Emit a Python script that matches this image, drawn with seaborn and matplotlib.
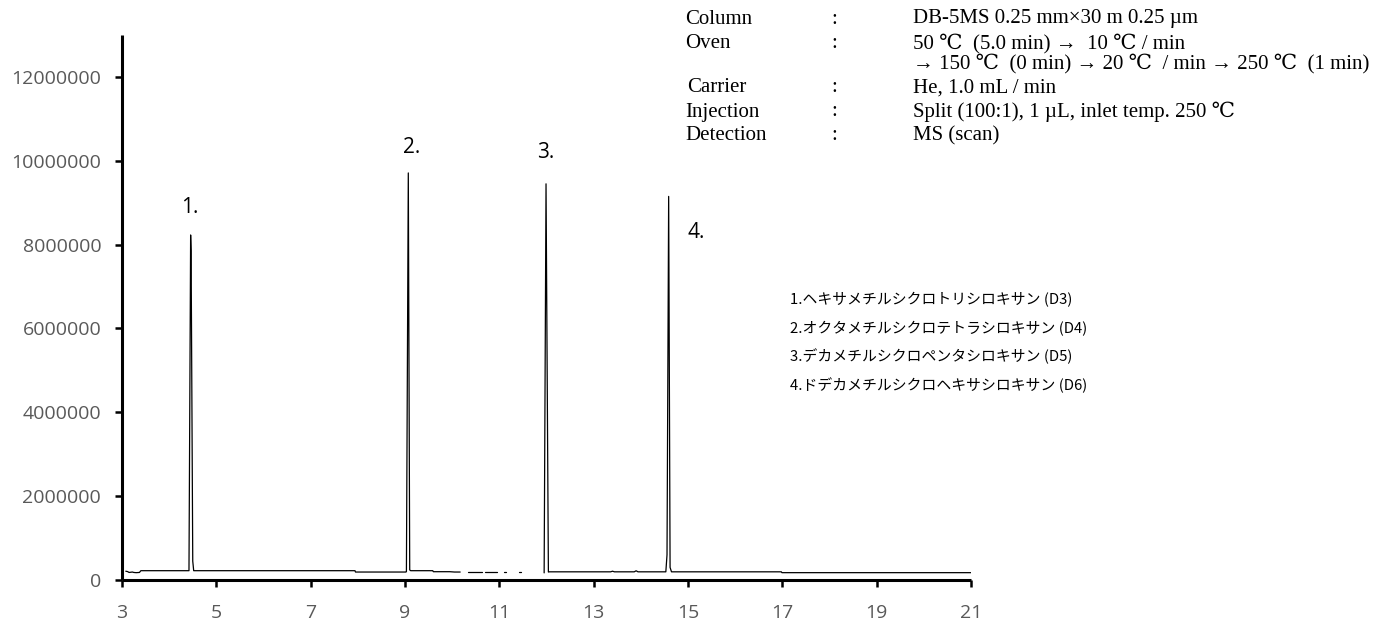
import numpy as np
import pandas as pd
import matplotlib
matplotlib.use("Agg")
import matplotlib.pyplot as plt
from matplotlib.ticker import FuncFormatter
import seaborn as sns

# Total ion chromatogram of cyclic siloxanes D3-D6 (retention time in min, abundance)
# segment ids separate stretches of the trace where the recorded signal drops out
seg_id = [0] * 25 + [1, 1] + [2, 2] + [3, 3] + [4, 4] + [5] * 18
rt_min = [
    3.08, 3.12, 3.15, 3.22, 3.25, 3.30, 3.37, 3.40, 4.42, 4.455, 4.465, 4.50, 4.52,
    7.94, 7.95, 9.02, 9.03, 9.07, 9.10, 9.12, 9.59, 9.60, 9.95, 10.05, 10.17,
    10.33, 10.63,
    10.70, 10.95,
    11.10, 11.14,
    11.42, 11.46,
    11.95, 11.99, 12.04, 12.06, 13.36, 13.40, 13.44, 13.86, 13.90, 13.94,
    14.53, 14.555, 14.59, 14.62, 14.65, 16.98, 16.99, 21.0,
]
abundance = [
    210000, 200000, 180000, 190000, 180000, 175000, 180000, 222000, 222000, 8230000, 7850000, 450000, 222000,
    222000, 190000, 190000, 200000, 9710000, 240000, 222000, 222000, 198000, 198000, 190000, 190000,
    190000, 190000,
    190000, 190000,
    190000, 190000,
    190000, 190000,
    170000, 9450000, 190000, 195000, 195000, 210000, 195000, 195000, 220000, 195000,
    195000, 600000, 9150000, 300000, 195000, 195000, 175000, 175000,
]

peak_names = ["1.", "2.", "3.", "4."]
peak_rt = [4.455, 9.07, 11.99, 14.59]
peak_height = [8230000, 9710000, 9450000, 9150000]

compounds = [
    "1.ヘキサメチルシクロトリシロキサン (D3)",
    "2.オクタメチルシクロテトラシロキサン (D4)",
    "3.デカメチルシクロペンタシロキサン (D5)",
    "4.ドデカメチルシクロヘキサシロキサン (D6)",
]

cond_keys = ["Column", "Oven", "", "Carrier", "Injection", "Detection"]
cond_vals = [
    "DB-5MS 0.25 mm×30 m 0.25 µm",
    "50 ℃  (5.0 min) →  10 ℃ / min",
    "→ 150 ℃  (0 min) → 20 ℃  / min → 250 ℃  (1 min)",
    "He, 1.0 mL / min",
    "Split (100:1), 1 µL, inlet temp. 250 ℃",
    "MS (scan)",
]

x_ticks = [3, 5, 7, 9, 11, 13, 15, 17, 19, 21]
y_ticks = [0, 2000000, 4000000, 6000000, 8000000, 10000000, 12000000]

df = pd.DataFrame({"segment": seg_id, "rt": rt_min, "abundance": abundance})

sns.set_style("ticks")
plt.rcParams["font.family"] = ["Open Sans", "DejaVu Sans"]

W, H = 1375, 621
fig = plt.figure(figsize=(W / 100, H / 100), dpi=100)
ax = fig.add_axes([122 / W, 1 - 580 / H, (971 - 122) / W, (580 - 35) / H])

sns.lineplot(data=df, x="rt", y="abundance", units="segment", estimator=None,
             sort=False, color="black", linewidth=0.9, ax=ax, legend=False)

ax.set_xlim(3, 21)
ax.set_ylim(0, 13000000)
ax.set_xticks(x_ticks)
ax.set_yticks(y_ticks)
ax.yaxis.set_major_formatter(FuncFormatter(lambda v, p: f"{v:.0f}"))
ax.set_xlabel("")
ax.set_ylabel("")
for side in ("top", "right"):
    ax.spines[side].set_visible(False)
for side in ("left", "bottom"):
    ax.spines[side].set_linewidth(2.2)
    ax.spines[side].set_color("black")
    ax.spines[side].set_capstyle("butt")
ax.tick_params(axis="both", direction="out", length=5, width=1.8, color="black",
               labelsize=14, labelcolor="#595959")
ax.tick_params(axis="x", pad=12)
ax.tick_params(axis="y", pad=10)
ax.set_facecolor("white")
ax.grid(False)

# peak numbers
label_offsets = [(-0.01, 650000), (0.06, 600000), (0.0, 740000), (0.58, -850000)]
for name, r, h, (dx, dy) in zip(peak_names, peak_rt, peak_height, label_offsets):
    ax.text(r + dx, h + dy, name, ha="center", va="center", fontsize=15,
            color="black", family=["Open Sans", "DejaVu Sans"])

# analytical conditions
serif = ["Liberation Serif", "DejaVu Serif", "Noto Sans CJK JP"]
row_y = [19, 44, 64, 88, 112, 136]
for key, val, y in zip(cond_keys, cond_vals, row_y):
    if key:
        kx = 687 if key == "Carrier" else 685
        fig.text(kx / W, 1 - y / H, key, ha="left", va="center", fontsize=15,
                 family=serif, color="black")
        fig.text(831 / W, 1 - y / H, ":", ha="left", va="center", fontsize=15,
                 family=serif, color="black")
    fig.text(913 / W, 1 - y / H, val, ha="left", va="center", fontsize=15,
             family=serif, color="black")

# compound list
for i, c in enumerate(compounds):
    fig.text(790 / W, 1 - (300 + 28.3 * i) / H, c, ha="left", va="center",
             fontsize=10.7, family=["Noto Sans CJK JP", "DejaVu Sans"], color="black")

fig.savefig("out.png", dpi=100, facecolor="white")
